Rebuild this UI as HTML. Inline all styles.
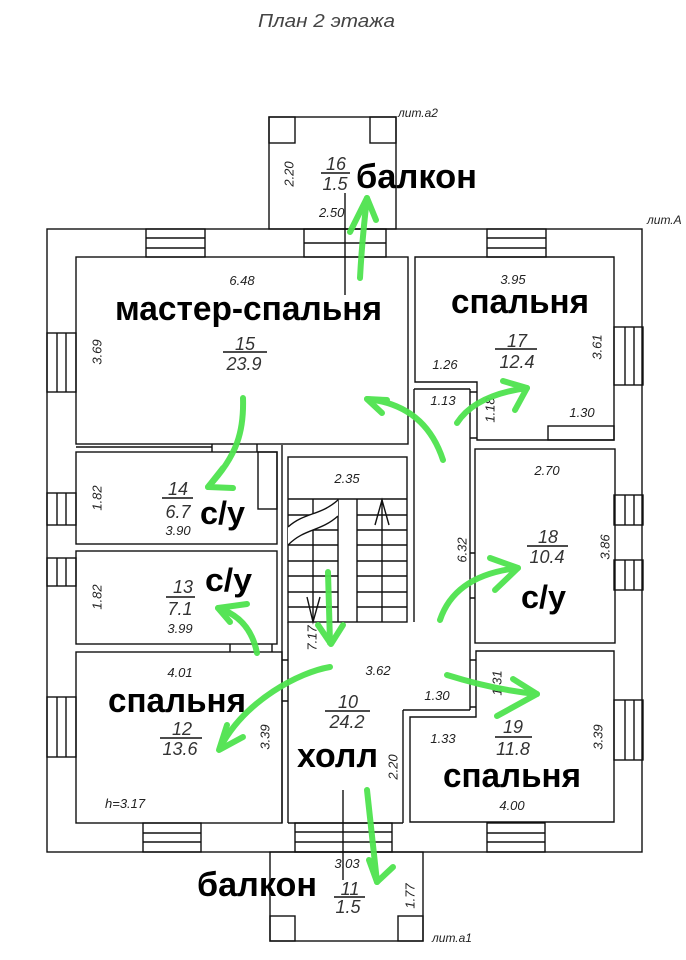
<!DOCTYPE html>
<html><head><meta charset="utf-8"><style>
html,body{margin:0;padding:0;background:#fff;}
svg{display:block}
.d{font-family:"Liberation Sans",sans-serif;font-style:italic;font-size:13px;fill:#222}
.f{font-family:"Liberation Sans",sans-serif;font-style:italic;font-size:18px;fill:#333}
.b{font-family:"Liberation Sans",sans-serif;font-weight:bold;font-size:34px;fill:#000}
.t{font-family:"Liberation Sans",sans-serif;font-style:italic;font-size:18px;fill:#444}
</style></head><body>
<svg width="686" height="960" viewBox="0 0 686 960" xmlns="http://www.w3.org/2000/svg">
<rect width="686" height="960" fill="#fff"/>
<text class="t" x="258" y="27" textLength="137" lengthAdjust="spacingAndGlyphs">План 2 этажа</text>

<g fill="none" stroke="#111" stroke-width="1.4">
  <!-- outer -->
  <rect x="47" y="229" width="595" height="623"/>
  <!-- balconies -->
  <rect x="269" y="117" width="127" height="112"/>
  <rect x="269" y="117" width="26" height="26"/>
  <rect x="370" y="117" width="26" height="26"/>
  <rect x="270" y="852" width="153" height="89"/>
  <rect x="270" y="916" width="25" height="25"/>
  <rect x="398" y="916" width="25" height="25"/>

  <!-- top windows -->
  <rect x="146" y="229" width="59" height="28"/><path d="M146,238H205M146,248H205"/>
  <rect x="304" y="229" width="82" height="28"/><path d="M304,243H386"/>
  <rect x="487" y="229" width="59" height="28"/><path d="M487,238H546M487,248H546"/>
  <!-- bottom windows -->
  <rect x="143" y="823" width="58" height="29"/><path d="M143,833H201M143,842H201"/>
  <rect x="295" y="823" width="97" height="29"/><path d="M295,832H392M295,842H392"/>
  <rect x="487" y="823" width="58" height="29"/><path d="M487,833H545M487,842H545"/>
  <!-- left windows -->
  <rect x="47" y="333" width="29" height="59"/><path d="M57,333V392M66,333V392"/>
  <rect x="47" y="493" width="29" height="32"/><path d="M57,493V525M66,493V525"/>
  <rect x="47" y="558" width="29" height="28"/><path d="M57,558V586M66,558V586"/>
  <rect x="47" y="697" width="29" height="60"/><path d="M57,697V757M66,697V757"/>
  <!-- right windows -->
  <rect x="614" y="327" width="29" height="58"/><path d="M625,327V385M634,327V385"/>
  <rect x="614" y="495" width="29" height="30"/><path d="M625,495V525M634,495V525"/>
  <rect x="614" y="560" width="29" height="30"/><path d="M625,560V590M634,560V590"/>
  <rect x="614" y="700" width="29" height="60"/><path d="M625,700V760M634,700V760"/>

  <!-- rooms -->
  <rect x="76" y="257" width="332" height="187"/>
  <polygon points="415,257 614,257 614,440 477,440 477,382 415,382"/>
  <rect x="548" y="426" width="66" height="14"/>
  <path d="M76,447H212M212,444V452M257,444V452"/>
  <rect x="76" y="452" width="201" height="92"/>
  <rect x="258" y="452" width="19" height="57"/>
  <rect x="76" y="551" width="201" height="93"/>
  <path d="M282,445V823M288,622V823"/>
  <rect x="76" y="652" width="206" height="171"/>
  <path d="M282,660H288M282,701H288M230,644V652M272,644V652"/>
  <!-- corridor -->
  <path d="M414,389V622M414,389H470M470,389V710"/>
  <path d="M470,392H477M470,438H477M470,553H475M470,598H475M470,660H476M470,707H476"/>
  <rect x="475" y="449" width="140" height="194"/>
  <polygon points="476,651 614,651 614,822 410,822 410,717 476,717"/>
  <path d="M403,710H470M403,710V823M288,823H403"/>
  <!-- axis lines -->
  <path d="M345,193V295M343,790V880"/>

  <!-- stairs -->
  <rect x="288" y="457" width="119" height="165"/>
  <path d="M288,499H407"/>
  <path d="M288,515H338M357,515H407M288,530H338M357,530H407M288,545H338M357,545H407M288,561H338M357,561H407M288,576H338M357,576H407M288,592H338M357,592H407M288,607H338M357,607H407"/>
  <path d="M313,499V622M338,499V622M357,499V622M382,499V622"/>
</g>
<path d="M288,527 C305,512 320,516 338,500 L338,516 C320,532 305,528 288,545 Z" fill="#fff" stroke="none"/>
<g fill="none" stroke="#111" stroke-width="1.4">
  <path d="M288,527 C305,512 320,516 338,500"/>
  <path d="M288,545 C305,528 320,532 338,516"/>
  <path d="M375,525 L382,500 L389,525"/>
  <path d="M307,597 L313,622 L320,597"/>
  <!-- fraction lines -->
  <path d="M321,173H350M223,352H267M495,349H537M162,498H193M166,597H195M527,546H568M160,738H202M325,711H370M495,737H532M334,897H365"/>
</g>

<!-- dimension texts -->
<g class="d">
  <text x="398" y="117" font-size="12">лит.а2</text>
  <text x="647" y="224" font-size="12">лит.А</text>
  <text x="432" y="942" font-size="12">лит.а1</text>
  <text x="319" y="217">2.50</text>
  <text x="242" y="285" text-anchor="middle">6.48</text>
  <text x="513" y="284" text-anchor="middle">3.95</text>
  <text x="445" y="369" text-anchor="middle">1.26</text>
  <text x="443" y="405" text-anchor="middle">1.13</text>
  <text x="582" y="417" text-anchor="middle">1.30</text>
  <text x="347" y="483" text-anchor="middle">2.35</text>
  <text x="178" y="535" text-anchor="middle">3.90</text>
  <text x="180" y="633" text-anchor="middle">3.99</text>
  <text x="547" y="475" text-anchor="middle">2.70</text>
  <text x="378" y="675" text-anchor="middle">3.62</text>
  <text x="437" y="700" text-anchor="middle">1.30</text>
  <text x="443" y="743" text-anchor="middle">1.33</text>
  <text x="180" y="677" text-anchor="middle">4.01</text>
  <text x="512" y="810" text-anchor="middle">4.00</text>
  <text x="347" y="868" text-anchor="middle">3.03</text>
  <text x="105" y="808">h=3.17</text>
  <text transform="translate(289,174) rotate(-90)" text-anchor="middle" dy="4.5">2.20</text>
  <text transform="translate(97,352) rotate(-90)" text-anchor="middle" dy="4.5">3.69</text>
  <text transform="translate(597,347) rotate(-90)" text-anchor="middle" dy="4.5">3.61</text>
  <text transform="translate(490,410) rotate(-90)" text-anchor="middle" dy="4.5">1.18</text>
  <text transform="translate(97,498) rotate(-90)" text-anchor="middle" dy="4.5">1.82</text>
  <text transform="translate(97,597) rotate(-90)" text-anchor="middle" dy="4.5">1.82</text>
  <text transform="translate(462,550) rotate(-90)" text-anchor="middle" dy="4.5">6.32</text>
  <text transform="translate(605,547) rotate(-90)" text-anchor="middle" dy="4.5">3.86</text>
  <text transform="translate(312,638) rotate(-90)" text-anchor="middle" dy="4.5">7.17</text>
  <text transform="translate(497,683) rotate(-90)" text-anchor="middle" dy="4.5">1.31</text>
  <text transform="translate(393,767) rotate(-90)" text-anchor="middle" dy="4.5">2.20</text>
  <text transform="translate(265,737) rotate(-90)" text-anchor="middle" dy="4.5">3.39</text>
  <text transform="translate(598,737) rotate(-90)" text-anchor="middle" dy="4.5">3.39</text>
  <text transform="translate(410,896) rotate(-90)" text-anchor="middle" dy="4.5">1.77</text>
</g>

<!-- fractions -->
<g class="f" text-anchor="middle">
  <text x="336" y="170">16</text><text x="335" y="190">1.5</text>
  <text x="245" y="350">15</text><text x="244" y="370">23.9</text>
  <text x="517" y="347">17</text><text x="517" y="368">12.4</text>
  <text x="178" y="495">14</text><text x="178" y="518">6.7</text>
  <text x="183" y="593">13</text><text x="180" y="615">7.1</text>
  <text x="548" y="543">18</text><text x="547" y="563">10.4</text>
  <text x="182" y="735">12</text><text x="180" y="755">13.6</text>
  <text x="348" y="708">10</text><text x="347" y="728">24.2</text>
  <text x="513" y="733">19</text><text x="513" y="755">11.8</text>
  <text x="350" y="895">11</text><text x="348" y="913">1.5</text>
</g>

<!-- bold labels -->
<g class="b">
  <text x="356" y="188" textLength="121" lengthAdjust="spacingAndGlyphs">балкон</text>
  <text x="115" y="320" textLength="267" lengthAdjust="spacingAndGlyphs">мастер-спальня</text>
  <text x="451" y="313" textLength="138" lengthAdjust="spacingAndGlyphs">спальня</text>
  <text x="200" y="524" font-size="32" textLength="45" lengthAdjust="spacingAndGlyphs">с/у</text>
  <text x="205" y="591" font-size="32" textLength="47" lengthAdjust="spacingAndGlyphs">с/у</text>
  <text x="521" y="608" font-size="32" textLength="45" lengthAdjust="spacingAndGlyphs">с/у</text>
  <text x="108" y="712" textLength="138" lengthAdjust="spacingAndGlyphs">спальня</text>
  <text x="297" y="767" textLength="81" lengthAdjust="spacingAndGlyphs">холл</text>
  <text x="443" y="787" textLength="138" lengthAdjust="spacingAndGlyphs">спальня</text>
  <text x="197" y="896" textLength="120" lengthAdjust="spacingAndGlyphs">балкон</text>
</g>

<!-- green arrows -->
<g fill="none" stroke="#4fe34f" stroke-width="6" stroke-linecap="round" stroke-linejoin="round" opacity="0.95">
  <path d="M360,278 Q362,240 367,198"/><path d="M350,232 L367,198 L376,220"/>
  <path d="M243,398 C244,430 238,455 208,487"/><path d="M223,468 L208,487 L233,488"/>
  <path d="M443,460 Q425,405 367,399"/><path d="M387,400 L367,399 L382,413"/>
  <path d="M457,423 Q475,395 527,388"/><path d="M503,381 L527,388 L515,410"/>
  <path d="M440,620 Q455,575 518,568"/><path d="M490,558 L518,568 L495,590"/>
  <path d="M328,572 L330,643"/><path d="M318,625 L331,644 L343,625"/>
  <path d="M257,653 Q250,618 218,608"/><path d="M247,604 L218,608 L230,622"/>
  <path d="M330,667 C300,672 245,700 220,748"/><path d="M243,737 L219,750 L227,725"/>
  <path d="M447,675 Q495,690 537,694"/><path d="M513,679 L537,694 L497,716"/>
  <path d="M367,790 Q372,835 377,882"/><path d="M369,860 L377,882 L393,867"/>
</g>
</svg>
</body></html>
